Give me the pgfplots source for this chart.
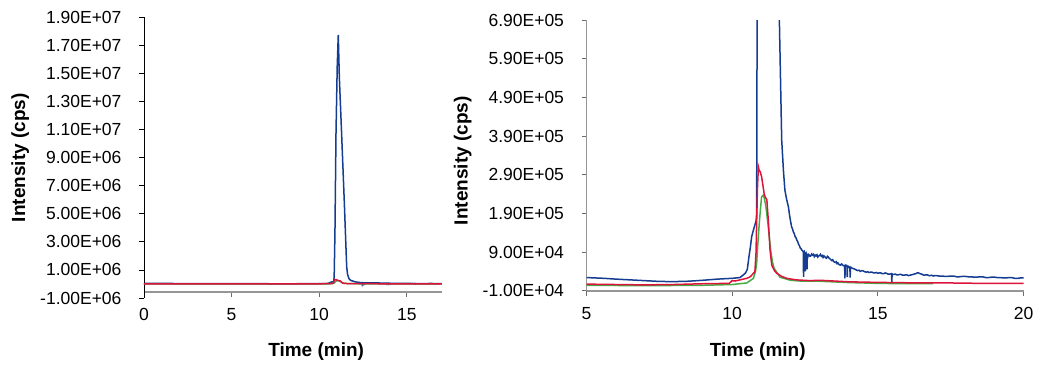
\documentclass[border=0pt]{standalone}
\usepackage{pgfplots}
\pgfplotsset{compat=1.18}
\usepackage{pgfplotstable}
\usepackage{fontspec}
\setmainfont{Liberation Sans}
\definecolor{cblue}{RGB}{20,60,145}
\definecolor{cred}{RGB}{220,20,60}
\definecolor{cgreen}{RGB}{70,170,70}
\definecolor{axgray}{RGB}{150,150,150}
\definecolor{tkgray}{RGB}{110,110,110}

\pgfplotstableread{
t v
0.0 40000
1.0 36000
2.0 32000
3.0 29000
4.0 26000
5.0 24000
5.3 23000
5.6 22000
6.0 20000
6.5 18000
7.0 16000
7.5 14000
8.0 13500
8.5 14500
9.0 17000
9.5 20000
10.0 22000
10.27 24000
10.45 35000
10.52 45000
10.58 80000
10.62 100000
10.67 130000
10.73 147000
10.78 160000
10.82 170000
10.84 190000
10.86 800000
10.90 3600000
10.96 10700000
11.03 15500000
11.09 17740000
11.15 14770000
11.28 10730000
11.43 5980000
11.57 1230000
11.62 690000
11.70 380000
11.76 300000
11.81 250000
11.87 226000
11.93 207000
11.98 180000
12.04 155000
12.07 150000
12.10 142000
12.13 138000
12.16 130000
12.19 127000
12.22 121000
12.25 117000
12.28 110000
12.31 106000
12.34 100000
12.37 98000
12.39 95000
12.42 93000
12.44 90000
12.45 26000
12.46 88000
12.48 91000
12.50 86000
12.51 40000
12.52 84000
12.54 87000
12.56 82000
12.57 45000
12.58 81000
12.60 78000
12.62 84000
12.64 83000
12.67 79000
12.70 80000
12.73 85000
12.76 82000
12.79 84000
12.82 78000
12.85 82000
12.88 80000
12.91 83000
12.94 77000
12.97 80000
13.00 81000
13.03 84000
13.06 79000
13.09 81000
13.12 76000
13.15 80000
13.18 78000
13.21 75000
13.24 74000
13.27 79000
13.30 77000
13.33 74000
13.36 72000
13.39 70000
13.42 68000
13.45 70000
13.48 66000
13.51 64000
13.54 63000
13.57 65000
13.60 60000
13.63 62000
13.66 58000
13.69 57000
13.72 56000
13.75 59000
13.78 58000
13.81 55000
13.84 54000
13.86 55000
13.87 22000
13.88 53000
13.91 56000
13.94 55000
13.95 25000
13.96 52000
13.99 53000
14.02 50000
14.04 51000
14.05 24000
14.06 49000
14.09 50000
14.12 48000
14.16 47000
14.20 46000
14.25 44000
14.30 42000
14.35 43000
14.40 40000
14.45 42000
14.50 41000
14.55 39000
14.60 38000
14.65 39000
14.70 37000
14.75 38000
14.80 38000
14.85 36000
14.90 36000
14.95 37000
15.00 35000
15.05 36000
15.10 36000
15.15 34000
15.20 34000
15.25 36000
15.30 35000
15.35 33000
15.40 33000
15.47 34000
15.48 13000
15.49 33000
15.55 32000
15.60 33000
15.65 31000
15.70 31000
15.75 32000
15.80 32000
15.85 30000
15.90 30000
15.95 31000
16.00 31000
16.05 29000
16.10 30000
16.15 31000
16.20 32000
16.25 33000
16.30 34000
16.35 36000
16.40 36000
16.45 34000
16.50 33000
16.55 31000
16.60 30000
16.65 31000
16.70 31000
16.75 29000
16.80 29000
16.85 30000
16.90 28000
16.95 29000
17.00 29000
17.10 28000
17.20 28000
17.30 27000
17.40 27000
17.50 28000
17.60 28000
17.70 26000
17.80 26000
17.90 27000
18.00 27000
18.10 26000
18.20 26000
18.30 25000
18.40 25000
18.50 26000
18.60 26000
18.70 24000
18.80 24000
18.90 25000
19.00 25000
19.10 24000
19.20 24000
19.30 23000
19.40 23000
19.50 24000
19.60 24000
19.70 22000
19.80 22000
19.90 23000
20.00 23000
}\bluedata

\pgfplotstableread{
t v
0.0 8000
3.0 7500
5.0 7000
6.0 6000
7.0 5000
8.0 6000
9.0 8000
9.9 9000
10.0 16000
10.1 15000
10.5 22000
10.62 26000
10.78 39000
10.82 90000
10.84 165000
10.87 260000
10.90 310000
10.93 300000
10.96 298000
11.01 285000
11.06 260000
11.10 240000
11.13 233000
11.19 225000
11.24 173000
11.30 95000
11.36 56000
11.45 42000
11.53 35000
11.70 27000
11.87 22000
12.20 18000
12.67 16000
13.00 17000
13.50 15000
14.00 13000
14.62 12000
15.50 11000
16.50 10000
17.50 10000
18.50 9000
20.00 9000
}\reddata

\pgfplotstableread{
t v
0.0 3000
5.0 4000
7.0 3000
9.0 4000
10.0 6000
10.5 10000
10.73 22000
10.80 40000
10.84 61000
10.88 110000
10.93 164000
10.97 200000
11.01 233000
11.07 237000
11.10 230000
11.16 207000
11.24 155000
11.32 95000
11.38 65000
11.44 48000
11.64 25000
12.00 17000
12.33 15000
13.00 14500
14.00 11000
15.00 9000
16.00 8000
16.90 8000
}\greendata

\begin{document}
\begin{tikzpicture}
\path[use as bounding box] (0pt,0pt) rectangle (1045pt,373pt);
\pgfplotsset{
  tlfont/.style={font=\fontsize{17.5}{21}\selectfont},
  every axis/.append style={
    scale only axis,
    /pgf/number format/assume math mode=true,
    scaled y ticks=false, scaled x ticks=false,
    tick align=outside,
    major tick length=5pt,
    xtick pos=bottom, ytick pos=left,
    ticklabel style={tlfont},
    xticklabel style={yshift=-8pt},
    yticklabel style={xshift=-14pt},
    label style={font=\fontsize{19}{22}\selectfont\bfseries},
    clip=true,
  },
}
% Left panel
\begin{axis}[
  anchor=south west,
  at={(144pt,75pt)},
  width=297.8pt, height=280.7pt,
  xmin=0, xmax=17, ymin=-1e6, ymax=1.9e7,
  axis x line*=bottom, axis y line*=left,
  axis x line shift=-6.3pt,
  x axis line style={draw=axgray, line width=1.6pt, -},
  y axis line style={draw=black, line width=0.8pt, -},
  xtick={0,5,10,15},
  ytick={-1e6,1e6,3e6,5e6,7e6,9e6,1.1e7,1.3e7,1.5e7,1.7e7,1.9e7},
  yticklabels={-1.00E+06,1.00E+06,3.00E+06,5.00E+06,7.00E+06,9.00E+06,1.10E+07,1.30E+07,1.50E+07,1.70E+07,1.90E+07},
  x tick style={draw=tkgray, line width=0.8pt},
  y tick style={draw=black, line width=0.8pt},
  xlabel={Time (min)}, ylabel={Intensity (cps)},
  xlabel style={at={(axis description cs:0.578,-0.192)}, anchor=center},
  ylabel style={at={(axis description cs:-0.416,0.5)}, anchor=center},
]
\addplot[cblue, line width=1.5pt] table[x=t,y=v] {\bluedata};
\addplot[cgreen, line width=1.5pt] table[x=t,y=v] {\greendata};
\addplot[cred, line width=1.5pt] table[x=t,y=v] {\reddata};
\end{axis}
% Right panel
\begin{axis}[
  anchor=south west,
  at={(586.5pt,82.3pt)},
  width=437pt, height=270.7pt,
  xmin=5, xmax=20, ymin=-1e4, ymax=6.9e5,
  axis x line*=bottom, axis y line*=left,
  x axis line style={draw=axgray, line width=1.6pt, -},
  y axis line style={draw=axgray, line width=1.2pt, -},
  xtick={5,10,15,20},
  ytick={-1e4,9e4,1.9e5,2.9e5,3.9e5,4.9e5,5.9e5,6.9e5},
  yticklabels={-1.00E+04,9.00E+04,1.90E+05,2.90E+05,3.90E+05,4.90E+05,5.90E+05,6.90E+05},
  x tick style={draw=tkgray, line width=0.8pt},
  y tick style={draw=tkgray, line width=0.8pt},
  xlabel={Time (min)}, ylabel={Intensity (cps)},
  xlabel style={at={(axis description cs:0.392,-0.226)}, anchor=center},
  ylabel style={at={(axis description cs:-0.283,0.48)}, anchor=center},
]
\addplot[cblue, line width=1.5pt] table[x=t,y=v] {\bluedata};
\addplot[cgreen, line width=1.5pt] table[x=t,y=v] {\greendata};
\addplot[cred, line width=1.5pt] table[x=t,y=v] {\reddata};
\end{axis}
\end{tikzpicture}
\end{document}
